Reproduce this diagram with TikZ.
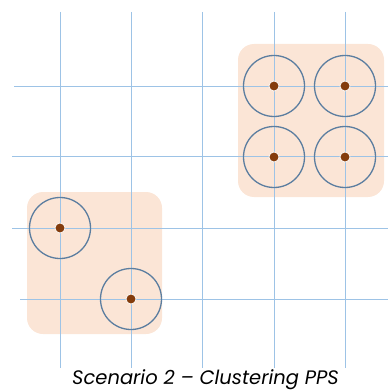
\documentclass[tikz,border=0pt]{standalone}
\usepackage{fontspec}
\setmainfont{Poppins}
\definecolor{gridblue}{RGB}{157,195,230}
\definecolor{boxfill}{RGB}{251,229,214}
\definecolor{ringblue}{RGB}{92,126,160}
\definecolor{dotbrown}{RGB}{132,60,12}
\begin{document}
\begin{tikzpicture}
	[x=1pt, y=-1pt,
	grid/.style={gridblue, line width=0.9pt},
	cluster/.style={fill=boxfill, rounded corners=16pt},
	ring/.style={circle, draw=ringblue, line width=1.3pt, minimum size=61pt, inner sep=0pt},
	pps/.style={circle, fill=dotbrown, draw=white, line width=0.7pt, minimum size=10pt, inner sep=0pt}]
	\useasboundingbox (0,0) rectangle (388,390);
	% clusters
	\fill [cluster] (238,44) rectangle (384,197);
	\fill [cluster] (27,192) rectangle (162,334);
	% grid
	\foreach \x in {60,131,202,274,345}
		\draw [grid] (\x,12) -- (\x,368);
	\foreach \y/\s in {86/14,156/12,228/12,299/20}
		\draw [grid] (\s,\y) -- (388,\y);
	% points
	\node [ring] (r1) at (274,86) {};
	\node [ring] (r2) at (345,86) {};
	\node [ring] (r3) at (274,157) {};
	\node [ring] (r4) at (345,157) {};
	\node [ring] (r5) at (60,228) {};
	\node [ring] (r6) at (131,299) {};
	\foreach \r in {1,...,6}
		\node [pps] (p\r) at (r\r) {};
	\node (caption) [anchor=base, inner sep=0pt, font=\itshape\fontsize{19.5}{20}\selectfont] at (205.5,384) {Scenario 2 -- Clustering PPS};
\end{tikzpicture}
\end{document}
